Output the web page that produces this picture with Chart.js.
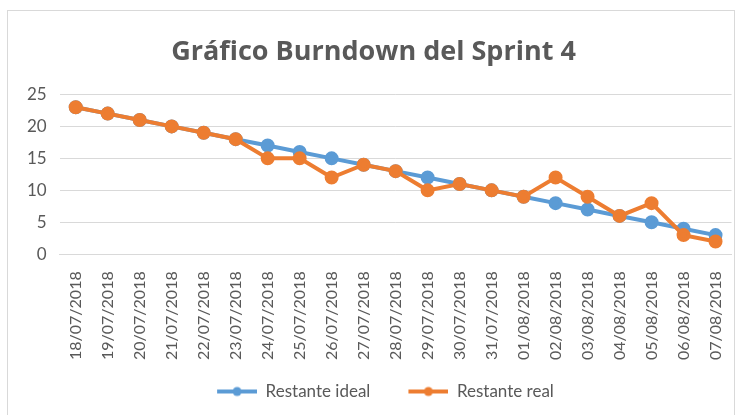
<!DOCTYPE html>
<html>
<head>
<meta charset="utf-8">
<script src="https://cdn.jsdelivr.net/npm/chart.js@4/dist/chart.umd.min.js"></script>
<style>
  html, body { margin: 0; padding: 0; background: #fff; }
  #marco { position: absolute; left: 7px; top: 10px; width: 728px; height: 420px; border: 1px solid #d9d9d9; box-sizing: border-box; }
  #wrap { position: absolute; left: 0; top: 0; width: 744px; height: 415px; }
</style>
</head>
<body>
<div id="marco"></div>
<div id="wrap"><canvas id="chart-burndown" width="744" height="415"></canvas></div>
<script>
// Fechas del sprint y horas restantes
var fechas = ['18/07/2018', '19/07/2018', '20/07/2018', '21/07/2018', '22/07/2018', '23/07/2018', '24/07/2018',
  '25/07/2018', '26/07/2018', '27/07/2018', '28/07/2018', '29/07/2018', '30/07/2018', '31/07/2018',
  '01/08/2018', '02/08/2018', '03/08/2018', '04/08/2018', '05/08/2018', '06/08/2018', '07/08/2018'];
var restanteIdeal = [23, 22, 21, 20, 19, 18, 17, 16, 15, 14, 13, 12, 11, 10, 9, 8, 7, 6, 5, 4, 3];
var restanteReal = [23, 22, 21, 20, 19, 18, 15, 15, 12, 14, 13, 10, 11, 10, 9, 12, 9, 6, 8, 3, 2];

var azul = '#5b9bd5', naranja = '#ed7d31';
var fuente = 'Lato, "Open Sans", sans-serif';

// icono de leyenda: linea con marcador (margen transparente a la izquierda)
function iconoLeyenda(color) {
    var c = document.createElement('canvas');
    c.width = 64; c.height = 12;
    var ctx = c.getContext('2d');
    ctx.strokeStyle = color; ctx.lineWidth = 4;
    ctx.beginPath(); ctx.moveTo(24, 6); ctx.lineTo(64, 6); ctx.stroke();
    ctx.fillStyle = color;
    ctx.beginPath(); ctx.arc(44, 6, 4.5, 0, Math.PI * 2); ctx.fill();
    return c;
}

new Chart(document.getElementById('chart-burndown'), {
    type: 'line',
    data: {
        labels: fechas,
        datasets: [{
            label: 'Restante ideal',
            data: restanteIdeal,
            borderColor: azul, backgroundColor: azul,
            borderWidth: 4, pointRadius: 5, pointHoverRadius: 5,
            pointStyle: 'circle', order: 1
        }, {
            label: 'Restante real',
            data: restanteReal,
            borderColor: naranja, backgroundColor: naranja,
            borderWidth: 4, pointRadius: 5, pointHoverRadius: 5,
            pointStyle: 'circle', order: 0
        }]
    },
    options: {
        responsive: false, animation: false,
        layout: { padding: { left: 14, right: 11, top: 36, bottom: 5 } },
        plugins: {
            title: {
                display: true, text: 'Gráfico Burndown del Sprint 4',
                color: '#595959', font: { family: '"Open Sans", sans-serif', size: 27, weight: 'bold' },
                padding: { top: 0, bottom: 26 }
            },
            legend: {
                position: 'bottom',
                labels: {
                    color: '#595959', font: { family: fuente, size: 17 },
                    usePointStyle: true, pointStyleWidth: 64, padding: 14,
                    sort: function(a, b) { return a.datasetIndex - b.datasetIndex; },
                    generateLabels: function(chart) {
                        return chart.data.datasets.map(function(ds, i) {
                            return { text: ds.label, pointStyle: iconoLeyenda(ds.borderColor), datasetIndex: i,
                                     fontColor: '#595959', strokeStyle: ds.borderColor, fillStyle: ds.borderColor, lineWidth: 0 };
                        });
                    }
                }
            },
            tooltip: { enabled: false }
        },
        scales: {
            y: {
                min: 0, max: 25,
                ticks: { stepSize: 5, color: '#595959', font: { family: fuente, size: 17 }, padding: 13 },
                grid: { color: '#d9d9d9', drawTicks: false },
                border: { display: false }
            },
            x: {
                offset: true,
                ticks: { color: '#595959', font: { family: fuente, size: 16 }, maxRotation: 90, minRotation: 90, autoSkip: false, padding: 9 },
                grid: { display: false },
                border: { color: '#d9d9d9' }
            }
        }
    }
});
</script>
</body>
</html>
